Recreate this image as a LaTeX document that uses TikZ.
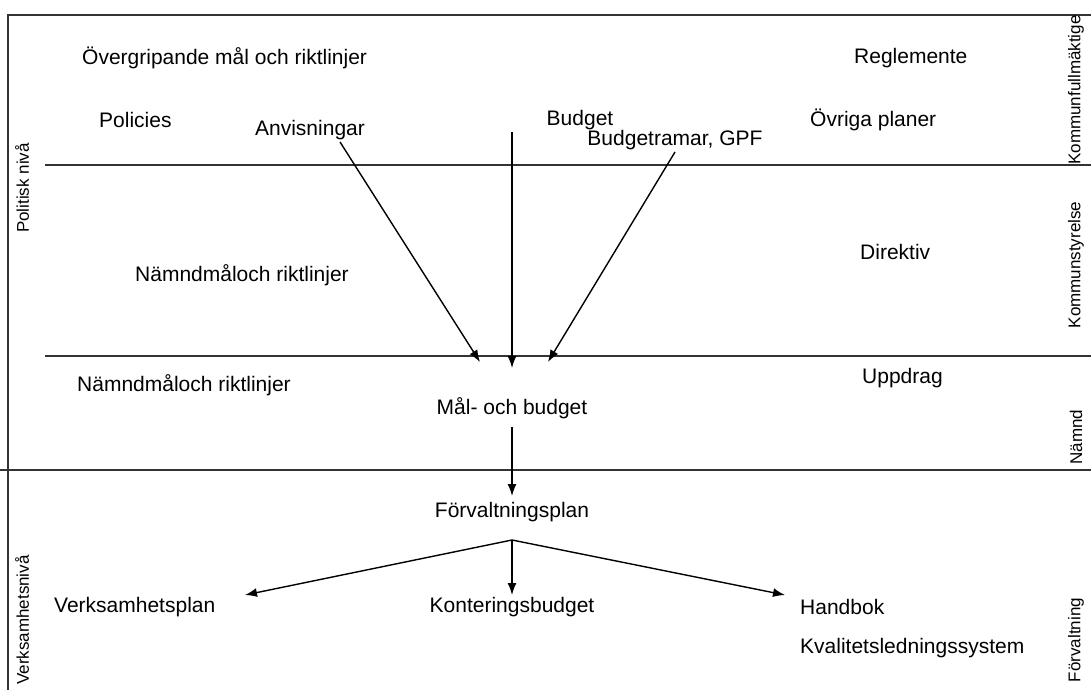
\documentclass[tikz,border=0pt]{standalone}
\usepackage{fontspec}
\setmainfont{Liberation Sans}
\usetikzlibrary{arrows.meta}

\tikzset{
  lbl/.style={font=\fontsize{21}{25}\selectfont, inner sep=2pt},
  side/.style={font=\fontsize{17}{20}\selectfont, rotate=90, inner sep=1pt},
  arr/.style={-{Latex[length=12pt,width=9pt]}, line width=1.4pt},
  rule/.style={line width=1.4pt, black!80}
}

\begin{document}
\begin{tikzpicture}[x=1pt,y=-1pt]
\useasboundingbox (0,0) rectangle (1091,690);
% frame and level lines
\draw[rule] (8,690) -- (8,15) -- (1091,15);
\draw[rule] (45,165) -- (1091,165);
\draw[rule] (45,356) -- (1091,356);
\draw[rule] (0,470) -- (1091,470);

% texts of the levels
\node[lbl, anchor=west] (overgr) at (80,58) {Övergripande mål och riktlinjer};
\node[lbl, anchor=west] (regl) at (852,58) {Reglemente};
\node[lbl, anchor=west] (pol) at (97,120) {Policies};
\node[lbl] (budget) at (580,120) {Budget};
\node[lbl, anchor=west] (ovr) at (808,120) {Övriga planer};
\node[lbl] (anv) at (310,130) {Anvisningar};
\node[lbl] (bgr) at (675,140) {Budgetramar, GPF};
\node[lbl, anchor=west] (nmr1) at (133,275) {Nämndmåloch riktlinjer};
\node[lbl, anchor=west] (dir) at (858,252) {Direktiv};
\node[lbl, anchor=west] (nmr2) at (75,385) {Nämndmåloch riktlinjer};
\node[lbl, anchor=west] (uppd) at (860,378) {Uppdrag};
\node[lbl] (mal) at (512,408) {Mål- och budget};
\node[lbl] (fp) at (512,512) {Förvaltningsplan};
\node[lbl, anchor=west] (vp) at (52,607) {Verksamhetsplan};
\node[lbl] (kb) at (512,607) {Konteringsbudget};
\node[lbl, anchor=west] (hb) at (798,607) {Handbok};
\node[lbl, anchor=west] (kls) at (798,648) {Kvalitetsledningssystem};

% side labels
\node[side] (kf) at (1076,90) {Kommunfullmäktige};
\node[side] (ks) at (1076,265) {Kommunstyrelse};
\node[side] (nd) at (1076,437) {Nämnd};
\node[side] (fv) at (1076,640) {Förvaltning};
\node[side] (pn) at (22,188) {Politisk nivå};
\node[side] (vn) at (22,620) {Verksamhetsnivå};

% arrows
\coordinate (anvE) at (480,362);
\coordinate (budE) at (512,368);
\coordinate (bgrE) at (548,362);
\draw[arr] ([xshift=30pt]anv.south) -- (anvE);
\draw[arr] (budget.south -| budE) -- (budE);
\draw[arr] (bgr.south) -- (bgrE);
\draw[arr] ([yshift=-6pt]mal.south) -- ([yshift=4pt]fp.north);

\coordinate (fork) at (512,540);
\coordinate (vpE) at (245,595);
\coordinate (hbE) at (785,595);
\draw[arr] (fork) -- (vpE);
\draw[arr] (fork) -- (kb.north);
\draw[arr] (fork) -- (hbE);
\end{tikzpicture}
\end{document}
